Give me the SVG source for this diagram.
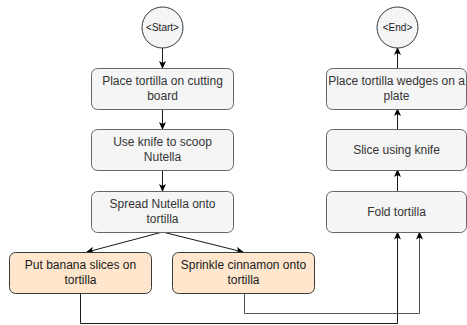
<svg xmlns="http://www.w3.org/2000/svg" width="467" height="325" viewBox="0 0 467 325">
<defs>
<style>
.box{fill:#f5f5f5;stroke:#666666;stroke-width:1}
.obox{fill:#ffe6cc;stroke:#36393d;stroke-width:1}
.circ{fill:#f5f5f5;stroke:#36393d;stroke-width:1}
.t{font-family:"Liberation Sans",Arial,sans-serif;font-size:12px;fill:#333333;text-anchor:middle}
.ot{font-family:"Liberation Sans",Arial,sans-serif;font-size:12px;fill:#1a1a1a;text-anchor:middle}
.ct{font-family:"Liberation Sans",Arial,sans-serif;font-size:10px;fill:#1a1a1a;text-anchor:middle}
.e{fill:none;stroke:#1a1a1a;stroke-width:1;marker-end:url(#arr)}
.eg{fill:none;stroke:#555555;stroke-width:1;marker-end:url(#arr)}
</style>
<marker id="arr" viewBox="0 0 8 7" refX="7" refY="3.5" markerWidth="8" markerHeight="7" markerUnits="userSpaceOnUse" orient="auto">
<path d="M0,0 L8,3.5 L0,7 L2,3.5 z" fill="#000000"/>
</marker>
</defs>
<rect width="467" height="325" fill="#ffffff"/>
<g id="connectors">
<path class="e" d="M162.5,48 L162.5,68"/>
<path class="e" d="M162.5,109 L162.5,129"/>
<path class="e" d="M162.5,170 L162.5,191"/>
<path class="e" d="M162.5,232 L87,252"/>
<path class="e" d="M162.5,232 L243,252"/>
<path class="e" d="M80.5,293 L80.5,323.5 L397.5,323.5 L397.5,232.5"/>
<path class="eg" d="M244.5,293 L244.5,313.5 L419.5,313.5 L419.5,232.5"/>
<path class="e" d="M397.5,191 L397.5,170"/>
<path class="e" d="M397.5,129 L397.5,109"/>
<path class="e" d="M397.5,68 L397.5,48"/>
</g>
<g id="start">
<circle class="circ" cx="162.5" cy="27.5" r="20.5"/>
<text class="ct" x="162.5" y="31">&lt;Start&gt;</text>
</g>
<g id="box1">
<rect class="box" x="91.5" y="68.5" width="142" height="41" rx="6"/>
<text class="t" x="162.5" y="85">Place tortilla on cutting</text>
<text class="t" x="162.5" y="100">board</text>
</g>
<g id="box2">
<rect class="box" x="91.5" y="129.5" width="142" height="41" rx="6"/>
<text class="t" x="162.5" y="146">Use knife to scoop</text>
<text class="t" x="162.5" y="161">Nutella</text>
</g>
<g id="box3">
<rect class="box" x="91.5" y="191.5" width="142" height="41" rx="6"/>
<text class="t" x="162.5" y="208">Spread Nutella onto</text>
<text class="t" x="162.5" y="223">tortilla</text>
</g>
<g id="box4">
<rect class="obox" x="9.5" y="252.5" width="142" height="41" rx="6"/>
<text class="ot" x="80.5" y="269">Put banana slices on</text>
<text class="ot" x="80.5" y="284">tortilla</text>
</g>
<g id="box5">
<rect class="obox" x="172.5" y="252.5" width="142" height="41" rx="6"/>
<text class="ot" x="243.5" y="269">Sprinkle cinnamon onto</text>
<text class="ot" x="243.5" y="284">tortilla</text>
</g>
<g id="end">
<circle class="circ" cx="397.5" cy="27.5" r="20.5"/>
<text class="ct" x="397.5" y="31">&lt;End&gt;</text>
</g>
<g id="box6">
<rect class="box" x="326.5" y="68.5" width="140" height="41" rx="6"/>
<text class="t" x="396.5" y="85">Place tortilla wedges on a</text>
<text class="t" x="396.5" y="100">plate</text>
</g>
<g id="box7">
<rect class="box" x="326.5" y="129.5" width="140" height="41" rx="6"/>
<text class="t" x="396.5" y="154">Slice using knife</text>
</g>
<g id="box8">
<rect class="box" x="326.5" y="191.5" width="140" height="41" rx="6"/>
<text class="t" x="396.5" y="216">Fold tortilla</text>
</g>
</svg>
